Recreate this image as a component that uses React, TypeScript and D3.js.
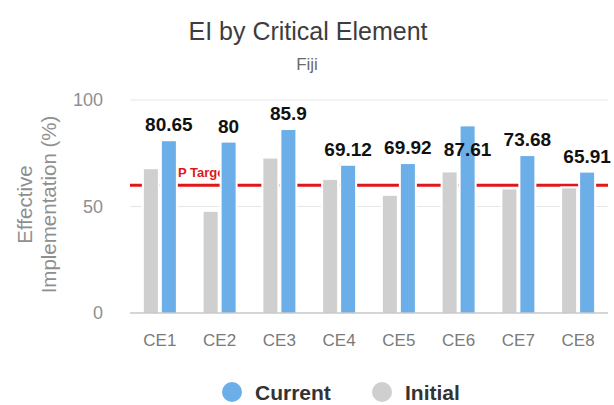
import React from "react";
import * as d3 from "d3";

const categories = ["CE1", "CE2", "CE3", "CE4", "CE5", "CE6", "CE7", "CE8"];
const currentValues = [80.65, 80, 85.9, 69.12, 69.92, 87.61, 73.68, 65.91];
const initialValues = [67.5, 47.5, 72.5, 62.5, 55, 66, 58, 58.5];
const yTicks = [0, 50, 100];
const targetValue = 60;
const targetLabel = "GASP Target";
const titleText = "EI by Critical Element";
const subtitleText = "Fiji";
const yAxisTitle = ["Effective", "Implementation (%)"];
const seriesNames = ["Current", "Initial"];

const W = 614;
const H = 405;
const FONT = "'Liberation Sans', Arial, sans-serif";
const BLUE = "#6caee8";
const GRAY = "#cfcfcf";
const RED = "#e0161b";

export default function App() {
  const x = d3.scaleBand<string>().domain(categories).range([130, 608]);
  const y = d3.scaleLinear().domain([0, 100]).range([313, 100]);
  const barW = 14;
  const gap = 4;
  const pad = 2;
  const pairOffset = (x.bandwidth() - (2 * barW + gap)) / 2;
  const labelFont = 19;

  const labelBaseline = (v: number) => {
    const above = y(v) - 10;
    // labels that would poke above the plot area are flipped inside the bar end
    return above - labelFont < y(100) - 1 ? y(v) + 30 : above;
  };

  const bars = categories.flatMap((c, i) => {
    const bx = (x(c) as number) + pairOffset;
    return [
      { key: c + "-i", x: bx, v: initialValues[i], fill: GRAY },
      { key: c + "-c", x: bx + barW + gap, v: currentValues[i], fill: BLUE },
    ];
  });

  return (
    <svg width={W} height={H} style={{ position: "absolute", left: 0, top: 0, background: "#fff" }}>
      <rect x={0} y={0} width={W} height={H} fill="#fff" />
      <text x={308} y={40} textAnchor="middle" fontFamily={FONT} fontSize={25} fill="#3d3d3d">
        {titleText}
      </text>
      <text x={307} y={70} textAnchor="middle" fontFamily={FONT} fontSize={17} fill="#6b6b6b">
        {subtitleText}
      </text>

      {yTicks.filter((t) => t !== 0).map((t) => (
        <line key={t} x1={130} x2={608} y1={y(t)} y2={y(t)} stroke="#e6e6e6" strokeWidth={1} />
      ))}
      {yTicks.map((t) => (
        <text key={t} x={103} y={y(t) + 6} textAnchor="end" fontFamily={FONT} fontSize={18} fill="#8f8f8f">
          {t}
        </text>
      ))}

      <text transform={`translate(32,${(y(0) + y(100)) / 2 - 2}) rotate(-90)`} textAnchor="middle" fontFamily={FONT} fontSize={20.5} fill="#8f8f8f">
        <tspan x={0} dy={0}>{yAxisTitle[0]}</tspan>
        <tspan x={0} dy={24}>{yAxisTitle[1]}</tspan>
      </text>

      {categories.map((c) => (
        <text key={c} x={(x(c) as number) + x.bandwidth() / 2} y={346} textAnchor="middle" fontFamily={FONT} fontSize={17} fill="#7a7a7a">
          {c}
        </text>
      ))}

      <line x1={130} x2={608} y1={y(targetValue)} y2={y(targetValue)} stroke={RED} strokeWidth={3} />
      <text x={(x(categories[0]) as number) + x.bandwidth() / 2 - 10} y={y(targetValue) - 8} fontFamily={FONT} fontSize={13} fontWeight="bold" fill={RED}>
        {targetLabel}
      </text>

      {bars.map((b) => (
        <rect key={b.key + "-bg"} x={b.x - pad} y={y(b.v) - pad} width={barW + 2 * pad} height={y(0) - y(b.v) + pad} fill="#fff" />
      ))}
      {bars.map((b) => (
        <rect key={b.key} x={b.x} y={y(b.v)} width={barW} height={y(0) - y(b.v)} fill={b.fill} />
      ))}

      <line x1={130} x2={608} y1={y(0)} y2={y(0)} stroke="#c8c8c8" strokeWidth={1.5} />

      {categories.map((c, i) => {
        const cx = (x(c) as number) + pairOffset + barW + gap + barW / 2;
        return (
          <text key={c} x={cx} y={labelBaseline(currentValues[i])} textAnchor="middle" fontFamily={FONT} fontSize={labelFont} fontWeight="bold" fill="#111">
            {String(currentValues[i])}
          </text>
        );
      })}

      {seriesNames.map((s, i) => {
        const lx = i === 0 ? 232 : 382;
        return (
          <g key={s}>
            <circle cx={lx} cy={392} r={10} fill={i === 0 ? BLUE : GRAY} />
            <text x={lx + 23} y={400} fontFamily={FONT} fontSize={21} fontWeight="bold" fill="#333">
              {s}
            </text>
          </g>
        );
      })}
    </svg>
  );
}
